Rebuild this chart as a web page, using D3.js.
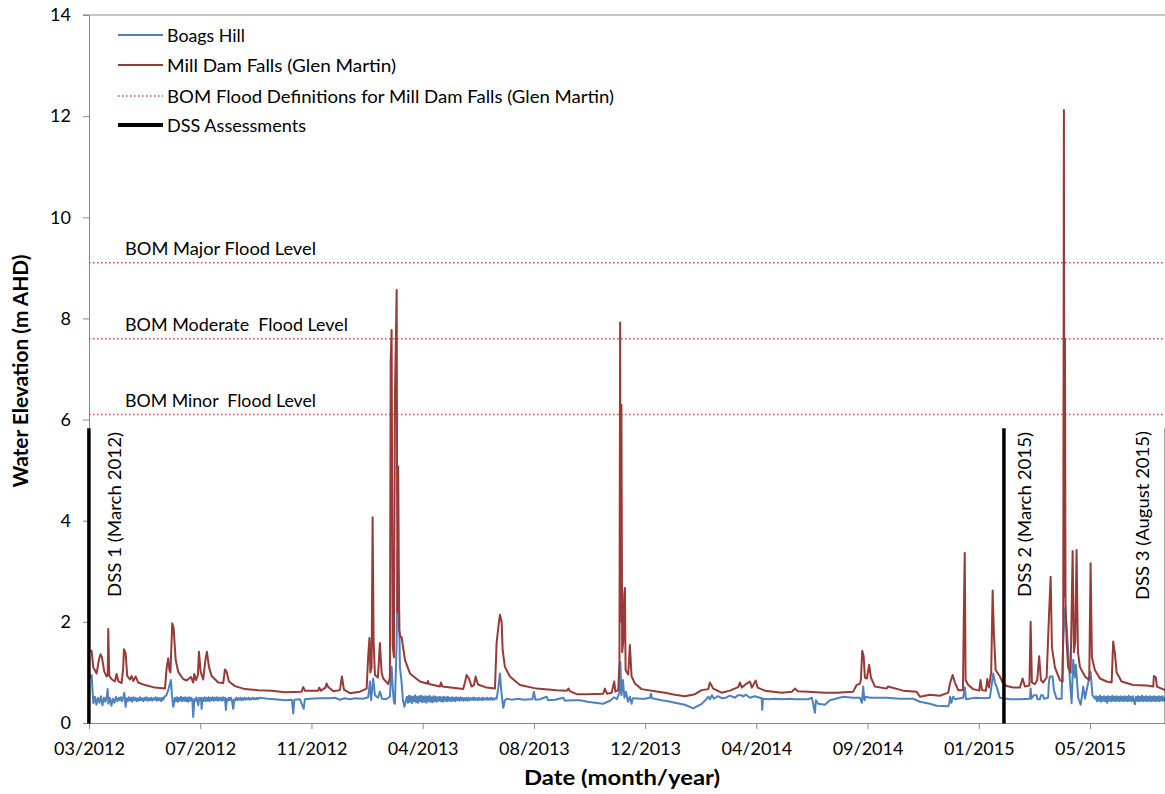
<!DOCTYPE html>
<html><head><meta charset="utf-8">
<script src="https://cdn.jsdelivr.net/npm/d3@7"></script>
<style>
body{margin:0;background:#fff}
svg{display:block}
text{font-family:Lato,"Open Sans",sans-serif;fill:#000;white-space:pre}
</style></head><body>
<svg id="c" width="1165" height="794"></svg>
<script>
// ---------------- data ----------------
const seriesNames = ["Boags Hill", "Mill Dam Falls (Glen Martin)",
  "BOM Flood Definitions for Mill Dam Falls (Glen Martin)", "DSS Assessments"];
// x tick dates (Excel date axis, 130-day major unit), labelled mm/yyyy
const xTickDates = ["2012-03-09","2012-07-17","2012-11-24","2013-04-03","2013-08-11",
  "2013-12-19","2014-04-28","2014-09-05","2015-01-13","2015-05-23"];
const yTicks = [0, 2, 4, 6, 8, 10, 12, 14];
const floodLevels = [9.1, 7.6, 6.1];
const floodLabels = ["BOM Major Flood Level", "BOM Moderate  Flood Level", "BOM Minor  Flood Level"];
// days since 1 March 2012
const dssDay = [7.9, 1077.4, 1267.3];
const dssLabels = ["DSS 1 (March 2012)", "DSS 2 (March 2015)", "DSS 3 (August 2015)"];
const dssTop = 5.83;

// Mill Dam Falls (Glen Martin): days since 1 March 2012, water level (m AHD)
const mdfDay = [7.9,11.1,13.0,16.9,19.6,21.4,23.1,25.8,28.6,29.9,
30.5,31.7,34.8,38.3,40.3,42.2,46.1,48.0,48.8,50.8,
52.7,55.8,57.8,59.7,62.5,65.5,73.4,85.1,96.8,98.7,
100.6,102.0,103.2,105.3,106.9,109.3,112.3,118.1,122.1,127.1,
129.8,131.0,133.0,135.3,136.5,138.5,141.5,144.3,145.8,148.2,
151.3,159.1,164.9,166.9,168.9,171.6,178.6,190.3,205.5,221.8,
237.0,256.5,258.4,260.4,275.9,277.1,279.1,284.3,285.7,287.6,
293.5,301.3,303.6,306.0,313.0,324.7,332.5,334.4,335.8,336.9,
338.3,339.5,340.7,342.2,345.7,348.0,350.0,351.9,357.8,359.7,
360.6,361.7,362.9,364.4,365.6,367.6,368.5,369.4,370.5,372.0,
373.4,377.3,383.1,394.8,403.0,404.2,405.3,418.2,419.3,421.1,
445.4,447.4,449.4,452.1,455.2,457.9,459.9,462.6,472.8,482.5,
484.4,486.3,488.3,490.3,491.5,494.1,500.0,511.7,531.2,554.6,
566.6,568.4,570.1,578.0,591.5,609.0,611.0,613.4,618.9,621.9,
623.3,626.6,628.0,628.8,629.5,630.3,631.2,632.4,633.6,634.4,
635.2,638.3,640.2,642.2,646.1,653.9,669.5,681.2,692.8,704.5,
716.2,724.1,731.8,733.7,737.6,747.4,757.1,766.8,768.8,771.1,
776.6,780.5,782.8,787.2,789.5,798.0,817.5,829.6,833.1,836.6,
848.6,868.2,881.8,901.2,905.2,909.1,910.2,911.8,913.4,914.9,
917.2,919.9,921.9,926.6,940.3,941.8,959.7,975.3,979.2,990.9,
1002.6,1012.3,1014.3,1017.4,1020.1,1024.0,1029.5,1030.6,1031.6,1032.6,
1035.7,1041.5,1048.5,1050.1,1051.7,1056.3,1057.9,1059.8,1062.5,1064.2,
1065.7,1067.7,1069.5,1072.7,1075.9,1080.5,1088.3,1096.1,1099.2,1101.9,
1107.2,1108.6,1110.1,1113.6,1116.3,1118.6,1120.6,1123.3,1127.3,1130.0,
1132.0,1133.5,1137.0,1142.8,1146.0,1146.7,1147.5,1148.1,1148.7,1149.4,
1150.7,1152.5,1155.3,1157.7,1159.2,1160.7,1162.3,1163.9,1166.2,1172.1,
1177.1,1178.7,1180.2,1183.7,1189.6,1197.4,1203.3,1205.1,1207.1,1209.1,
1214.9,1228.5,1244.2,1251.9,1252.7,1255.0,1256.2,1265.6];
const mdfLevel = [1.45,1.42,1.10,0.98,1.25,1.36,1.30,1.02,0.92,0.95,
1.86,0.93,0.86,0.82,0.97,0.83,0.79,1.10,1.46,1.38,
0.93,0.86,0.93,0.83,0.92,0.80,0.75,0.70,0.68,1.08,
1.28,1.05,1.00,1.97,1.88,1.25,1.01,0.87,0.84,0.91,
0.80,0.97,0.85,0.95,1.41,1.01,0.86,1.28,1.41,1.11,
0.93,0.80,0.79,1.06,1.01,0.82,0.73,0.67,0.65,0.64,
0.61,0.62,0.71,0.64,0.64,0.70,0.64,0.70,0.78,0.71,
0.63,0.65,0.92,0.66,0.59,0.62,0.68,1.34,1.68,1.00,
1.10,4.07,1.60,0.95,0.90,1.58,1.00,0.88,0.77,0.90,
7.12,7.77,1.55,1.30,6.45,8.56,2.20,5.07,1.84,1.70,
1.70,1.25,0.98,0.82,0.78,0.83,0.77,0.72,0.80,0.72,
0.67,0.80,0.95,0.88,0.72,0.75,0.92,0.76,0.70,0.68,
1.58,1.87,2.14,2.00,1.44,1.11,0.92,0.75,0.68,0.65,
0.64,0.68,0.63,0.57,0.57,0.58,0.68,0.58,0.60,0.82,
0.62,0.65,1.20,7.92,2.00,6.29,1.40,1.60,2.55,2.67,
1.05,0.96,1.54,0.92,0.78,0.67,0.63,0.60,0.56,0.53,
0.57,0.65,0.67,0.80,0.68,0.60,0.64,0.71,0.80,0.70,
0.78,0.82,0.70,0.84,0.70,0.64,0.60,0.62,0.68,0.63,
0.62,0.60,0.60,0.62,0.75,0.78,0.85,1.43,1.32,0.90,
0.88,1.15,0.90,0.72,0.68,0.72,0.64,0.62,0.52,0.56,
0.54,0.60,0.78,0.95,0.80,0.65,0.65,2.23,3.36,0.85,
0.75,0.67,0.64,0.85,0.65,0.64,0.87,0.70,1.00,2.62,
1.75,1.05,1.00,0.92,0.80,0.73,0.70,0.70,0.88,0.72,
0.74,2.00,0.80,0.77,0.85,1.32,0.85,0.80,0.90,2.10,
2.89,1.50,1.10,0.85,0.82,1.90,12.12,2.50,7.60,2.40,
1.58,1.10,0.99,3.40,1.40,1.60,3.42,1.40,1.11,0.92,
0.85,3.16,1.30,1.05,0.88,0.82,0.80,1.61,1.38,1.00,
0.82,0.75,0.74,0.72,0.93,0.90,0.72,0.65];

// Boags Hill: days since 1 March 2012, water level (m AHD)
const bhDay = [7.9,9.1,11.1,13.0,14.9,16.7,18.4,20.2,21.9,23.7,
25.5,27.2,29.0,29.8,30.7,32.5,34.2,36.0,37.7,39.5,
41.2,43.0,44.0,45.3,46.6,47.9,49.2,50.8,52.0,53.3,
54.6,55.9,57.2,58.5,59.8,61.1,62.4,63.7,65.0,66.3,
67.6,68.9,70.2,71.5,72.8,74.1,75.4,76.7,78.0,79.3,
80.6,81.9,83.2,84.5,85.8,87.1,88.4,89.7,91.0,92.3,
93.6,94.9,96.2,98.5,100.6,103.8,104.9,106.5,108.4,109.6,
110.8,112.0,113.2,114.4,115.6,116.8,118.0,119.2,120.4,121.6,
122.8,124.0,125.2,126.4,127.6,128.8,129.8,131.2,132.4,133.6,
134.8,135.7,136.8,137.9,139.0,139.6,140.6,141.8,143.0,144.2,
145.4,146.6,147.8,149.0,150.2,151.4,152.6,153.8,155.0,156.2,
157.4,158.6,159.8,161.0,162.2,163.4,164.6,165.8,166.9,168.0,
169.2,170.4,171.6,172.8,174.0,175.2,176.6,177.8,179.0,180.2,
181.4,182.6,183.8,185.0,186.2,187.4,188.6,189.8,191.0,192.2,
193.4,194.6,195.8,197.0,198.2,199.4,200.6,201.8,203.0,204.2,
205.4,206.6,207.8,217.1,225.3,237.0,245.2,246.7,248.1,254.5,
258.9,260.4,266.2,277.9,289.6,295.4,301.3,307.1,313.0,318.8,
328.5,334.4,336.4,337.8,340.2,342.2,345.7,348.0,350.4,355.1,
359.7,361.7,363.2,364.4,365.6,367.6,368.6,370.3,371.4,373.4,
374.9,376.7,378.4,379.6,380.8,382.0,383.2,384.4,385.6,386.8,
388.0,389.2,390.4,391.6,392.8,394.0,395.2,396.4,397.6,398.8,
400.0,401.2,402.4,403.6,404.8,406.0,407.2,408.4,409.6,410.8,
412.0,413.2,414.4,415.6,416.8,418.0,419.2,420.4,421.6,422.8,
424.0,425.2,426.4,427.6,428.8,430.0,431.2,432.4,433.6,434.8,
436.0,437.2,438.4,439.6,440.8,442.0,443.2,444.4,445.6,446.8,
448.0,449.2,450.4,451.6,452.8,454.0,455.2,456.4,457.6,458.8,
460.0,461.2,462.4,463.6,464.8,466.0,467.2,468.4,469.6,470.8,
472.0,473.2,474.4,475.6,476.8,478.0,479.2,480.4,481.6,482.8,
484.4,486.5,488.3,490.1,492.2,494.1,496.5,502.3,509.3,516.4,
523.4,526.3,528.0,529.8,535.1,542.9,544.4,552.6,562.3,564.3,
572.4,581.8,591.1,599.3,609.0,616.9,621.9,625.0,628.0,629.1,
630.3,632.1,633.8,635.6,637.9,640.2,642.2,643.7,646.1,651.9,
657.8,663.6,664.8,666.0,677.3,684.7,692.8,704.5,714.2,724.1,
729.1,731.8,733.7,736.1,738.4,743.1,747.4,752.4,757.1,763.0,
766.5,770.8,772.3,775.8,780.5,786.3,792.2,794.2,794.9,795.7,
801.9,809.7,817.9,827.3,833.1,839.0,848.6,852.9,856.5,857.6,
860.3,868.2,874.0,889.6,901.2,909.1,911.4,912.9,914.3,916.1,
920.8,940.3,955.8,971.4,979.2,990.9,998.7,1012.3,1013.7,1014.3,
1016.0,1017.8,1020.1,1029.8,1031.8,1033.0,1043.5,1055.2,1061.0,1064.9,
1066.9,1069.2,1072.7,1084.4,1096.1,1107.8,1108.6,1109.5,1112.4,1115.6,
1116.5,1119.5,1120.6,1122.9,1124.1,1129.1,1129.9,1131.1,1134.3,1135.8,
1138.9,1144.8,1146.7,1148.7,1150.7,1152.5,1154.5,1156.5,1158.4,1160.4,
1161.5,1164.2,1167.1,1170.1,1172.1,1175.9,1178.7,1180.8,1183.7,1184.9,
1186.1,1187.3,1188.5,1189.7,1190.9,1192.1,1193.3,1194.5,1195.7,1196.9,
1198.1,1199.3,1200.5,1201.7,1202.9,1204.1,1205.3,1206.5,1207.7,1208.9,
1210.1,1211.3,1212.5,1213.7,1214.9,1216.1,1217.3,1218.5,1219.7,1220.9,
1222.1,1223.3,1224.5,1225.7,1226.9,1228.1,1229.3,1230.5,1231.7,1232.9,
1234.1,1235.3,1236.5,1237.7,1238.9,1240.1,1241.3,1242.5,1243.7,1244.9,
1246.1,1247.3,1248.5,1249.7,1250.9,1252.1,1253.3,1254.5,1255.7,1256.9,
1258.1,1259.3,1260.5,1261.7,1262.9,1264.1,1265.6];
const bhLevel = [0.95,0.90,0.95,0.39,0.52,0.36,0.50,0.40,0.53,0.35,
0.50,0.42,0.55,0.67,0.38,0.50,0.34,0.48,0.40,0.52,
0.43,0.50,0.45,0.51,0.43,0.50,0.60,0.32,0.49,0.43,
0.51,0.44,0.50,0.42,0.51,0.45,0.50,0.43,0.49,0.44,
0.51,0.45,0.49,0.43,0.50,0.45,0.51,0.44,0.49,0.45,
0.50,0.44,0.49,0.46,0.51,0.44,0.50,0.45,0.49,0.43,
0.50,0.46,0.52,0.55,0.65,0.85,0.55,0.32,0.50,0.43,
0.51,0.42,0.50,0.44,0.52,0.43,0.50,0.44,0.51,0.43,
0.50,0.42,0.51,0.44,0.50,0.45,0.12,0.48,0.44,0.51,
0.43,0.35,0.50,0.45,0.50,0.28,0.49,0.44,0.51,0.43,
0.50,0.44,0.51,0.43,0.50,0.45,0.51,0.44,0.50,0.45,
0.51,0.44,0.50,0.45,0.50,0.44,0.51,0.45,0.50,0.26,
0.48,0.44,0.50,0.45,0.50,0.44,0.28,0.47,0.45,0.50,
0.45,0.49,0.46,0.50,0.45,0.49,0.46,0.50,0.46,0.49,
0.47,0.50,0.46,0.49,0.47,0.50,0.47,0.49,0.47,0.50,
0.47,0.49,0.50,0.48,0.47,0.45,0.46,0.19,0.46,0.47,
0.28,0.47,0.48,0.49,0.49,0.50,0.46,0.49,0.47,0.49,
0.48,0.51,0.82,0.45,0.88,0.55,0.50,0.62,0.48,0.47,
0.52,1.11,0.65,0.42,0.38,1.61,3.40,2.57,1.11,0.80,
0.45,0.32,0.45,0.52,0.40,0.54,0.42,0.53,0.39,0.52,
0.43,0.55,0.41,0.52,0.40,0.53,0.43,0.54,0.41,0.52,
0.42,0.53,0.40,0.52,0.43,0.54,0.42,0.51,0.41,0.53,
0.43,0.52,0.42,0.51,0.44,0.52,0.43,0.51,0.42,0.52,
0.44,0.51,0.43,0.52,0.44,0.50,0.43,0.51,0.44,0.50,
0.43,0.51,0.45,0.50,0.44,0.51,0.45,0.50,0.44,0.49,
0.45,0.50,0.44,0.50,0.45,0.49,0.46,0.50,0.45,0.50,
0.46,0.49,0.45,0.50,0.46,0.49,0.45,0.50,0.46,0.49,
0.46,0.50,0.46,0.49,0.46,0.50,0.46,0.49,0.46,0.49,
0.48,0.70,0.98,0.60,0.30,0.45,0.48,0.46,0.48,0.46,
0.47,0.47,0.62,0.46,0.47,0.52,0.45,0.46,0.50,0.44,
0.45,0.45,0.42,0.40,0.38,0.44,0.51,0.47,0.60,1.20,
0.55,0.85,0.50,0.62,0.42,0.52,0.38,0.49,0.49,0.48,
0.48,0.50,0.58,0.49,0.45,0.43,0.40,0.36,0.29,0.38,
0.46,0.52,0.47,0.55,0.48,0.53,0.49,0.50,0.54,0.50,
0.55,0.55,0.52,0.56,0.50,0.53,0.50,0.49,0.26,0.48,
0.47,0.48,0.47,0.48,0.47,0.47,0.47,0.50,0.20,0.45,
0.38,0.36,0.45,0.52,0.50,0.50,0.40,0.72,0.45,0.52,
0.50,0.50,0.48,0.48,0.42,0.38,0.34,0.33,0.40,0.52,
0.40,0.52,0.47,0.50,0.70,0.47,0.50,0.49,0.50,0.98,
0.80,0.70,0.50,0.47,0.47,0.48,0.68,0.48,0.55,0.55,
0.47,0.47,0.55,0.55,0.48,0.50,0.80,0.92,0.92,0.65,
0.48,0.48,1.64,2.27,1.90,1.44,0.85,0.39,1.25,0.90,
1.15,0.50,0.36,0.72,0.48,0.80,1.01,0.55,0.48,0.53,
0.43,0.52,0.44,0.54,0.42,0.52,0.44,0.53,0.43,0.52,
0.40,0.53,0.44,0.52,0.43,0.54,0.44,0.52,0.43,0.53,
0.44,0.52,0.43,0.53,0.44,0.52,0.43,0.53,0.44,0.52,
0.43,0.54,0.44,0.52,0.43,0.53,0.44,0.37,0.52,0.44,
0.53,0.43,0.52,0.44,0.54,0.43,0.52,0.44,0.53,0.43,
0.52,0.44,0.53,0.43,0.52,0.44,0.53,0.43,0.52,0.44,
0.53,0.43,0.52,0.44,0.53,0.44,0.50];

// ---------------- layout / style ----------------
const plot = {left: 89, right: 1165, top: 15, bottom: 723, xEnd: 1090};
const axisCol = "#898989";
const colBH = "#4f81bd", colMDF = "#973a38", colFlood = "#c0504d";
const font = 'Lato, "Open Sans", sans-serif';

const svg = d3.select("#c");
const parse = d3.utcParse("%Y-%m-%d");
const t0 = Date.UTC(2012, 2, 1);
const dayToDate = d => new Date(t0 + d * 864e5);

const x = d3.scaleUtc()
  .domain([parse(xTickDates[0]), parse(xTickDates[xTickDates.length - 1])])
  .range([plot.left, plot.xEnd]);
const y = d3.scaleLinear().domain([0, 14]).range([plot.bottom, plot.top]);

// top border line (14 gridline)
svg.append("line").attr("x1", plot.left - 6).attr("x2", plot.right)
  .attr("y1", y(14)).attr("y2", y(14)).attr("stroke", axisCol).attr("stroke-width", 1);

// y axis
svg.append("g").attr("transform", `translate(${plot.left},0)`)
  .call(d3.axisLeft(y).tickValues(yTicks).tickSize(6).tickSizeOuter(0).tickPadding(12))
  .call(g => {
    g.attr("font-family", font).attr("font-size", 18);
    g.select(".domain").attr("stroke", axisCol);
    g.selectAll(".tick line").attr("stroke", axisCol);
  });

// x axis
svg.append("g").attr("transform", `translate(0,${plot.bottom})`)
  .call(d3.axisBottom(x).tickValues(xTickDates.map(parse))
    .tickFormat(d3.utcFormat("%m/%Y")).tickSize(6).tickSizeOuter(0).tickPadding(13))
  .call(g => {
    g.attr("font-family", font).attr("font-size", 18);
    g.select(".domain").remove();
    g.selectAll(".tick line").attr("stroke", axisCol);
  });
svg.append("line").attr("x1", plot.left).attr("x2", plot.right)
  .attr("y1", plot.bottom + 0.5).attr("y2", plot.bottom + 0.5).attr("stroke", axisCol);

// clip
svg.append("clipPath").attr("id", "clip").append("rect")
  .attr("x", plot.left).attr("y", 0).attr("width", plot.right - plot.left).attr("height", plot.bottom);

// flood levels
const fl = svg.append("g");
fl.selectAll("line").data(floodLevels).join("line")
  .attr("x1", plot.left).attr("x2", plot.right)
  .attr("y1", d => y(d)).attr("y2", d => y(d))
  .attr("stroke", colFlood).attr("stroke-width", 1.5).attr("stroke-dasharray", "1.5,2.5");
const floodLabelLen = [191, 223, 191];
fl.selectAll("text").data(floodLabels).join("text")
  .attr("x", 125).attr("y", (d, i) => y(floodLevels[i]) - 8)
  .attr("font-size", 17).attr("textLength", (d, i) => floodLabelLen[i])
  .attr("lengthAdjust", "spacingAndGlyphs").text(d => d);

// series
const line = d3.line().x(d => x(dayToDate(d[0]))).y(d => y(d[1]));
const sg = svg.append("g").attr("clip-path", "url(#clip)");
sg.append("path").datum(d3.zip(bhDay, bhLevel)).attr("d", line)
  .attr("fill", "none").attr("stroke", colBH).attr("stroke-width", 2).attr("stroke-linejoin", "round");
sg.append("path").datum(d3.zip(mdfDay, mdfLevel)).attr("d", line)
  .attr("fill", "none").attr("stroke", colMDF).attr("stroke-width", 2).attr("stroke-linejoin", "round");

// DSS assessment lines
svg.append("g").selectAll("line").data(dssDay).join("line")
  .attr("x1", d => x(dayToDate(d))).attr("x2", d => x(dayToDate(d)))
  .attr("y1", y(0) + 0.5).attr("y2", y(dssTop))
  .attr("stroke", "#000").attr("stroke-width", 3.5);
const dssLabelX = [121, 1031, 1149];
const dssLabelY = [514.5, 514.5, 515.5];
const dssLabelLen = [165, 165, 169];
svg.append("g").selectAll("text").data(dssLabels).join("text")
  .attr("transform", (d, i) => `translate(${dssLabelX[i]},${dssLabelY[i]}) rotate(-90)`)
  .attr("text-anchor", "middle").attr("font-size", 16.5)
  .attr("textLength", (d, i) => dssLabelLen[i]).attr("lengthAdjust", "spacingAndGlyphs")
  .text(d => d);

// legend
const legY = [35, 65, 96, 125];
const legLen = [78, 229, 447, 139];
const leg = svg.append("g");
const legStyle = [
  {stroke: colBH, w: 2, dash: null},
  {stroke: colMDF, w: 2, dash: null},
  {stroke: colFlood, w: 1.5, dash: "1.5,2.5"},
  {stroke: "#000", w: 4, dash: null}];
seriesNames.forEach((name, i) => {
  leg.append("line").attr("x1", 118).attr("x2", 163).attr("y1", legY[i]).attr("y2", legY[i])
    .attr("stroke", legStyle[i].stroke).attr("stroke-width", legStyle[i].w)
    .attr("stroke-dasharray", legStyle[i].dash);
  leg.append("text").attr("x", 167).attr("y", legY[i] + 6.5).attr("font-size", 18)
    .attr("textLength", legLen[i]).attr("lengthAdjust", "spacingAndGlyphs").text(name);
});

// axis titles
svg.append("text").attr("x", 622).attr("y", 785).attr("text-anchor", "middle")
  .attr("font-size", 20).attr("font-weight", "bold")
  .attr("textLength", 196).attr("lengthAdjust", "spacingAndGlyphs").text("Date (month/year)");
svg.append("text").attr("transform", "translate(28,371) rotate(-90)").attr("text-anchor", "middle")
  .attr("font-size", 20).attr("font-weight", "bold")
  .attr("textLength", 233).attr("lengthAdjust", "spacingAndGlyphs").text("Water Elevation (m AHD)");
</script>
</body></html>
